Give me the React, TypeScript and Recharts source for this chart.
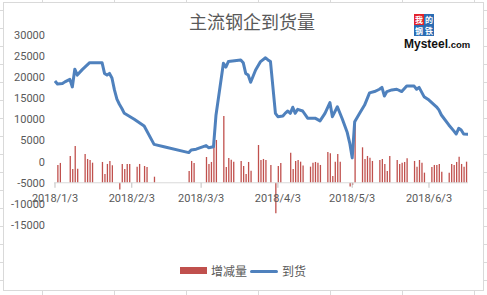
import React from 'react';
import { ComposedChart, Bar, Line, XAxis, YAxis, ReferenceLine } from 'recharts';

// days counted from 2018/1/3
const arrivalDays = [
  0, 1, 3, 4, 6, 7, 8, 9, 11, 14,
  19, 20, 21, 22, 23, 24, 25, 26, 27, 28,
  32, 36, 40, 44, 54, 55, 57, 61, 62, 64,
  65, 68, 69, 70, 75, 76, 77, 78, 79, 81,
  83, 85, 86, 87, 89, 90, 92, 93, 94, 95,
  96, 97, 98, 100, 102, 105, 107, 109, 111, 112,
  114, 116, 118, 119, 120, 121, 123, 125, 127, 129,
  131, 132, 133, 134, 136, 138, 140, 142, 145, 146,
  147, 149, 151, 154, 155, 156, 159, 161, 162, 163,
  164, 165, 167,
];
const arrivalValues = [
  19100, 18400, 18500, 18900, 19500, 17700, 21900, 20500, 21800, 23450,
  23450, 20900, 20500, 20900, 19800, 17000, 14800, 13600, 12600, 11450,
  10050, 8450, 4100, 3550, 2150, 2750, 2950, 3800, 3300, 3550,
  11000, 23300, 22400, 23700, 24100, 23450, 20900, 20500, 18800, 21700,
  23700, 24600, 24100, 23700, 11450, 10650, 10800, 11500, 12000, 11450,
  12900, 11450, 12400, 12000, 10300, 10300, 9650, 11450, 14000, 10650,
  13000, 10100, 6900, 4400, 900, 9450, 11450, 13400, 16300, 16600,
  17150, 17600, 15550, 16600, 17000, 17150, 16600, 17900, 17900, 17150,
  17600, 15400, 14600, 13000, 12250, 11050, 8700, 7300, 6550, 7900,
  7500, 6550, 6500,
];

const changeDays = [
  1, 2, 6, 7, 8, 9, 12, 13, 14, 15,
  19, 20, 21, 22, 23, 26, 27, 28, 29, 30,
  33, 34, 36, 37, 40, 54, 55, 56, 61, 62,
  63, 64, 65, 68, 69, 70, 71, 72, 75, 76,
  77, 78, 79, 82, 83, 84, 85, 87, 89, 90,
  91, 95, 96, 97, 98, 99, 100, 103, 104, 105,
  106, 107, 110, 111, 112, 113, 114, 115, 119, 120,
  121, 124, 125, 126, 127, 128, 131, 132, 133, 134,
  135, 138, 139, 140, 141, 142, 145, 146, 147, 148,
  149, 152, 153, 154, 155, 156, 159, 160, 161, 162,
  163, 164, 165, 166,
];
const changeValues = [
  -780, -300, 1350, -1730, 3720, -1650, 1820, 640, 400, -240,
  -70, -2900, -540, 170, -850, -6600, -540, -1730, -540, -540,
  -1180, -540, -1020, -1260, -3560, -2200, 170, -300, 1110, -540,
  -70, 3550, 5140, 10820, -1260, 880, 470, 0, 170, -1020,
  -2900, -70, -2150, 3950, 400, 640, 400, -780, -12200, -1020,
  -300, 2130, -1730, 170, 400, 0, -900, -1180, -240, -70,
  -240, -780, 2270, 1970, -3400, 0, 1820, 0, -5900, -5500,
  9500, 3400, 640, 1350, 950, 170, 400, 640, -540, -2200,
  1350, 400, -540, -240, -70, 800, 170, -1180, 400, -240,
  -2600, -1260, -780, -780, -540, -2370, -2600, -540, -780, -70,
  1180, -540, -1180, 0,
];

const tickDays = [0, 31, 59, 90, 120, 151];
const tickLabels = ['2018/1/3', '2018/2/3', '2018/3/3', '2018/4/3', '2018/5/3', '2018/6/3'];
const yTicks = [-15000, -10000, -5000, 0, 5000, 10000, 15000, 20000, 25000, 30000];

// the category axis crosses the value axis at -5000, columns grow from there
const AXIS_CROSS = -5000;

const rowsByDay: Record<number, any> = {};
arrivalDays.forEach((d, i) => {
  rowsByDay[d] = { ...(rowsByDay[d] || { day: d }), arrival: arrivalValues[i] };
});
changeDays.forEach((d, i) => {
  rowsByDay[d] = { ...(rowsByDay[d] || { day: d }), change: changeValues[i] };
});
const data = Object.values(rowsByDay).sort((a: any, b: any) => a.day - b.day);

const PLOT_TOP = 35;
const PLOT_H = 190;
const AXIS_Y = PLOT_TOP + (PLOT_H * (30000 - AXIS_CROSS)) / 45000;

const FONT = 'Roboto, "Noto Sans CJK SC", sans-serif';
const CJK = '"Noto Sans CJK SC", sans-serif';

function DateTick({ x, payload }: any) {
  const label = tickLabels[tickDays.indexOf(payload.value)];
  return (
    <g>
      <line x1={x} x2={x} y1={AXIS_Y} y2={AXIS_Y + 5} stroke="#bfbfbf" />
      <text x={x} y={AXIS_Y + 19} textAnchor="middle" fill="#595959" fontSize={11} fontFamily={FONT}>
        {label}
      </text>
    </g>
  );
}

const vGrid = [42, 114, 186, 258, 330, 402, 474];
const hGrid = [10, 28, 46, 64, 82, 100, 118, 136, 154, 172, 190, 208, 226, 244, 262, 280];

function Logo() {
  const box = (bg: string, ch: string, left: number, top: number) => (
    <div
      style={{
        position: 'absolute', left, top, width: 10, height: 11, background: bg, color: '#fff',
        fontSize: 8, lineHeight: '11px', textAlign: 'center', fontFamily: CJK, fontWeight: 700,
        overflow: 'hidden',
      }}
    >
      {ch}
    </div>
  );
  return (
    <>
      {box('#e3222b', '我', 414, 14)}
      {box('#2b6cb3', '的', 424, 14)}
      {box('#2b6cb3', '钢', 414, 25)}
      {box('#2b6cb3', '铁', 424, 25)}
      <div
        style={{
          position: 'absolute', left: 404, top: 36, fontFamily: '"Liberation Sans", Arial, sans-serif',
          fontWeight: 700, color: '#111', whiteSpace: 'nowrap', lineHeight: '14px',
        }}
      >
        <span style={{ fontSize: 12 }}>Mysteel</span>
        <span style={{ fontSize: 9.5 }}>.com</span>
      </div>
    </>
  );
}

export default function App() {
  return (
    <div style={{ position: 'absolute', left: 0, top: 0, width: 487, height: 295, background: '#fff', overflow: 'hidden' }}>
      {vGrid.map((x) => (
        <div key={'v' + x} style={{ position: 'absolute', left: x, top: 0, width: 1, height: 295, background: '#dadada' }} />
      ))}
      {hGrid.map((y) => (
        <div key={'h' + y} style={{ position: 'absolute', left: 0, top: y, width: 487, height: 1, background: '#dadada' }} />
      ))}
      <div
        style={{
          position: 'absolute', left: 3, top: 2, width: 479, height: 287, background: '#fff',
          border: '1px solid #d9d9d9',
        }}
      />
      <div
        style={{
          position: 'absolute', left: 0, top: 9, width: 504, textAlign: 'center', fontFamily: CJK,
          fontSize: 18, color: '#595959', lineHeight: '24px',
        }}
      >
        主流钢企到货量
      </div>
      <Logo />
      <div style={{ position: 'absolute', left: 0, top: 0 }}>
        <ComposedChart width={487} height={295} data={data} margin={{ top: PLOT_TOP, right: 19, left: 0, bottom: 40 }}>
          <XAxis
            dataKey="day"
            type="number"
            domain={[-0.4, 166.75]}
            ticks={tickDays}
            interval={0}
            height={30}
            axisLine={false}
            tickLine={false}
            tick={<DateTick />}
            allowDataOverflow
          />
          <YAxis
            type="number"
            domain={[-15000, 30000]}
            ticks={yTicks}
            interval={0}
            width={54}
            axisLine={false}
            tickLine={false}
            tickMargin={3}
            tick={{ fill: '#595959', fontSize: 11, fontFamily: FONT }}
          />
          <ReferenceLine y={AXIS_CROSS} stroke="#d9d9d9" strokeWidth={1} />
          <Bar
            dataKey={(d: any) => (d.change == null ? null : [AXIS_CROSS, d.change])}
            fill="#c0504d"
            barSize={1.3}
            isAnimationActive={false}
          />
          <Line
            dataKey="arrival"
            type="linear"
            stroke="#4f81bd"
            strokeWidth={3}
            dot={false}
            activeDot={false}
            connectNulls
            strokeLinejoin="round"
            isAnimationActive={false}
          />
        </ComposedChart>
      </div>
      <div style={{ position: 'absolute', left: 180, top: 267, width: 27, height: 7, background: '#c0504d' }} />
      <div style={{ position: 'absolute', left: 211, top: 262, fontFamily: CJK, fontSize: 12, color: '#595959', lineHeight: '18px' }}>
        增减量
      </div>
      <div style={{ position: 'absolute', left: 250, top: 269.5, width: 28, height: 3, background: '#4f81bd', borderRadius: 1.5 }} />
      <div style={{ position: 'absolute', left: 282, top: 262, fontFamily: CJK, fontSize: 12, color: '#595959', lineHeight: '18px' }}>
        到货
      </div>
    </div>
  );
}
